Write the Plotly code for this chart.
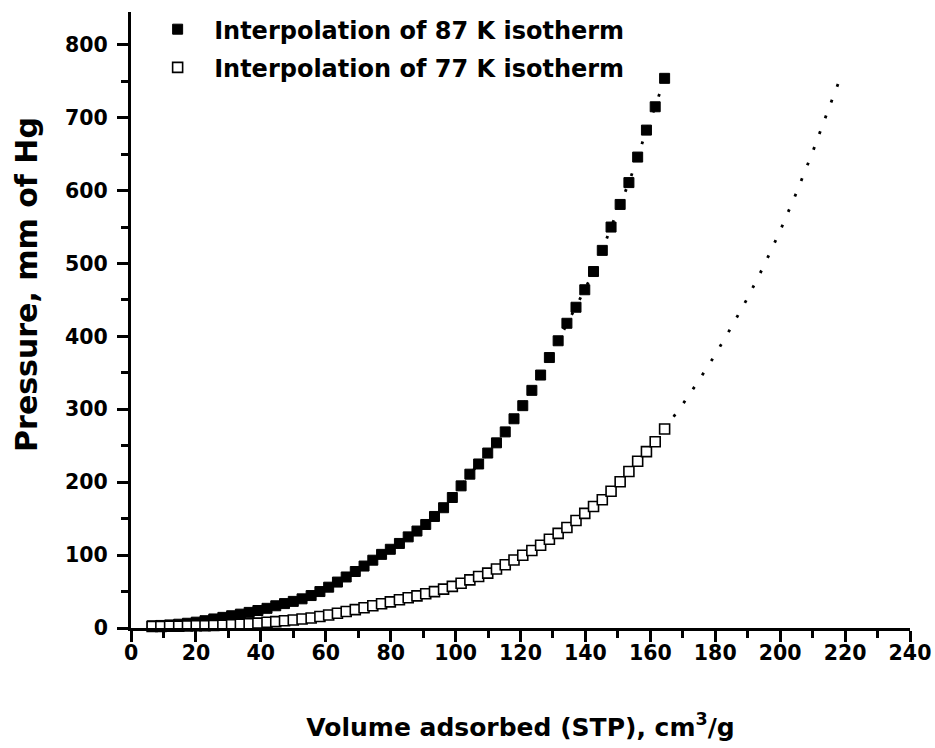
import plotly.graph_objects as go

# Adsorbed volume (cm3/g STP) at which both isotherms were interpolated
volume = [6.5, 9.2, 11.9, 14.7, 17.4, 20.1, 22.8, 25.5, 28.3, 31.0, 33.7, 36.4, 39.1, 41.9,
          44.6, 47.3, 50.0, 52.7, 55.5, 58.2, 60.9, 63.6, 66.3, 69.1, 71.8, 74.5, 77.2, 79.9,
          82.7, 85.4, 88.1, 90.8, 93.5, 96.3, 99.0, 101.7, 104.4, 107.1, 109.9, 112.6, 115.3,
          118.0, 120.7, 123.5, 126.2, 128.9, 131.6, 134.3, 137.1, 139.8, 142.5, 145.2, 147.9,
          150.7, 153.4, 156.1, 158.8, 161.5, 164.4]

# Pressure (mm Hg), 87 K isotherm
p87 = [3.0, 3.5, 4.2, 5.2, 6.5, 8.0, 10.0, 12.4, 14.6, 16.8, 19.0, 21.4, 24.0, 27.0,
       30.5, 33.5, 36.5, 40.0, 44.5, 50.0, 56.0, 63.0, 70.0, 77.5, 85.0, 93.0, 101.0, 108.0,
       116.0, 125.0, 133.0, 142.0, 153.0, 165.0, 179.0, 195.0, 211.0, 225.0, 240.0, 254.0, 269.0,
       287.0, 305.0, 326.0, 347.0, 371.0, 394.0, 418.0, 440.0, 464.0, 489.0, 518.0, 550.0,
       581.0, 611.0, 646.0, 683.0, 715.0, 754.0]

# Pressure (mm Hg), 77 K isotherm
p77 = [2.0, 2.2, 2.4, 2.6, 2.8, 3.0, 3.3, 3.6, 4.0, 4.5, 5.2, 5.9, 6.7, 7.8,
       8.8, 9.9, 11.0, 12.3, 13.8, 15.7, 17.8, 20.2, 22.7, 25.2, 27.8, 30.5, 33.2, 35.9,
       38.7, 41.4, 44.1, 46.9, 49.9, 53.3, 57.1, 61.4, 66.0, 70.6, 75.3, 81.0, 86.7,
       93.2, 99.7, 106.4, 113.6, 121.7, 129.8, 137.9, 147.4, 157.3, 166.6, 175.9, 187.5,
       200.6, 214.7, 228.8, 242.0, 255.5, 273.0]

# Dotted extrapolation of the 77 K curve beyond the interpolated points
ext_volume = [164.4, 170, 175, 180, 185, 190, 195, 200, 205, 210, 215, 219]
ext_p77 = [273.0, 307, 340, 375, 413, 453, 497, 545, 597, 653, 713, 760]

x_ticks = [0, 20, 40, 60, 80, 100, 120, 140, 160, 180, 200, 220, 240]
y_ticks = [0, 100, 200, 300, 400, 500, 600, 700, 800]

FONT = "DejaVu Sans"
DOT = "2.8px,14px"

fig = go.Figure()

# fitted dotted curves (drawn beneath markers)
fig.add_trace(go.Scatter(x=volume, y=p87, mode="lines", showlegend=False,
                         line=dict(color="black", width=2.8, dash=DOT),
                         hoverinfo="skip", cliponaxis=False))
fig.add_trace(go.Scatter(x=volume + ext_volume[1:], y=p77 + ext_p77[1:], mode="lines",
                         showlegend=False,
                         line=dict(color="black", width=2.8, dash=DOT),
                         hoverinfo="skip", cliponaxis=False))

fig.add_trace(go.Scatter(x=volume, y=p87, mode="markers",
                         name="Interpolation of 87 K isotherm", legendgroup="a",
                         marker=dict(symbol="square", size=10, color="black",
                                     line=dict(color="black", width=1)),
                         cliponaxis=False))
fig.add_trace(go.Scatter(x=volume, y=p77, mode="markers",
                         name="Interpolation of 77 K isotherm", legendgroup="b",
                         marker=dict(symbol="square", size=10, color="white",
                                     line=dict(color="black", width=1.6)),
                         cliponaxis=False))

axis_common = dict(
    showline=True, linecolor="black", linewidth=3, mirror=False,
    showgrid=False, zeroline=False,
    ticks="outside", ticklen=11, tickwidth=2.5, tickcolor="black",
    tickfont=dict(family=FONT, size=20.5, color="black", weight="bold"),
)

fig.update_xaxes(
    range=[0, 240], tickmode="array", tickvals=x_ticks,
    ticktext=[str(v) for v in x_ticks],
    minor=dict(dtick=10, ticklen=7, tickwidth=2.5, tickcolor="black", ticks="outside"),
    title=dict(text="Volume adsorbed (STP), cm<sup>3</sup>/g",
               font=dict(family=FONT, size=25, color="black", weight="bold"),
               standoff=55),
    ticklabelstandoff=-7,
    **axis_common,
)
fig.update_yaxes(
    range=[0, 845], tickmode="array", tickvals=y_ticks,
    ticktext=[str(v) for v in y_ticks],
    minor=dict(dtick=50, ticklen=7, tickwidth=2.5, tickcolor="black", ticks="outside"),
    ticklabelstandoff=5,
    **axis_common,
)

# y-axis title, placed off-centre as in the original figure
fig.add_annotation(text="Pressure, mm of Hg", textangle=-90,
                   xref="paper", yref="paper", x=-0.1335, y=0.557,
                   xanchor="center", yanchor="middle", showarrow=False,
                   font=dict(family=FONT, size=30, color="black", weight="bold"))

fig.update_layout(
    width=935, height=748,
    margin=dict(l=131, r=25, t=12, b=120, autoexpand=False),
    paper_bgcolor="white", plot_bgcolor="white",
    font=dict(family=FONT, color="black"),
    legend=dict(x=0.013, y=1.008, xanchor="left", yanchor="top",
                bgcolor="rgba(0,0,0,0)", borderwidth=0,
                itemwidth=63,
                traceorder="grouped", tracegroupgap=4,
                font=dict(family=FONT, size=24, color="black", weight="bold")),
    showlegend=True,
)

fig.write_html("out.html", config={"displayModeBar": False},
               post_script="document.body.style.margin='0';")
